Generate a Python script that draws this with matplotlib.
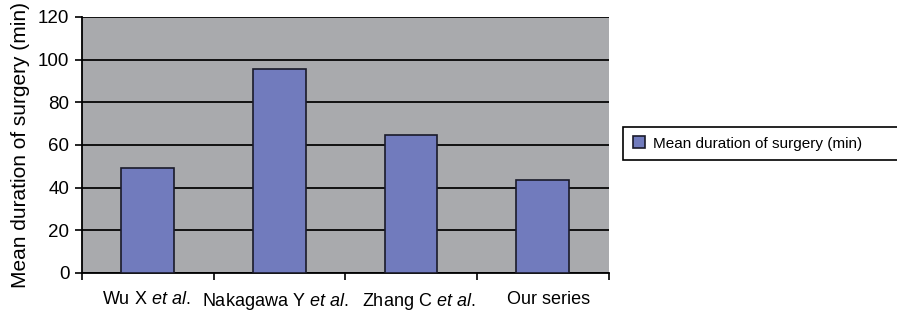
import numpy as np
import matplotlib
matplotlib.use("Agg")
import matplotlib.pyplot as plt
import matplotlib.transforms as mtransforms
from matplotlib.patches import Rectangle

plt.rcParams['font.family'] = ['Liberation Sans', 'DejaVu Sans']
plt.rcParams['mathtext.fontset'] = 'custom'
plt.rcParams['mathtext.rm'] = 'Liberation Sans'
plt.rcParams['mathtext.it'] = 'Liberation Sans:italic'

# data
studies = ["Wu X $\\it{et\\ al.}$", "Nakagawa Y $\\it{et\\ al.}$",
           "Zhang C $\\it{et\\ al.}$", "Our series"]
durations = [49, 95.5, 64.5, 43.5]
series_name = "Mean duration of surgery (min)"

fig = plt.figure(figsize=(8.97, 3.13), dpi=100)
ax = fig.add_axes([0.0914, 0.128, 0.587, 0.818])
ax.set_facecolor('#A9AAAD')

x = np.arange(len(studies))
ax.bar(x, durations, width=0.4, color='#717BBD', edgecolor='#1a1a2a',
       linewidth=1.2, zorder=3, label=series_name)

ax.set_ylim(0, 120)
ax.set_xlim(-0.5, len(studies) - 0.5)
ax.set_yticks(range(0, 121, 20))
ax.yaxis.grid(True, color='#111111', linewidth=1.4, zorder=0)
ax.set_axisbelow(True)

# category labels centred, ticks at boundaries
ax.set_xticks(x)
ax.set_xticklabels(studies, fontsize=13)
ax.tick_params(axis='x', length=0, pad=13)
ax.set_xticks(np.arange(-0.5, len(studies)), minor=True)
ax.tick_params(axis='x', which='minor', length=5, width=1.2, direction='out')
ax.tick_params(axis='y', labelsize=13.5, length=5, width=1.2, pad=4)

# nudge labels apart a little, as in the source
shifts = [-1.5, -4.5, 8, 6]
for lab, dx in zip(ax.get_xticklabels(), shifts):
    lab.set_transform(lab.get_transform() +
                      mtransforms.ScaledTranslation(dx / 100, 0, fig.dpi_scale_trans))

for side in ['top', 'right']:
    ax.spines[side].set_visible(False)
ax.spines['left'].set_linewidth(1.3)
ax.spines['bottom'].set_linewidth(1.3)

ax.set_ylabel(series_name, fontsize=15, labelpad=6)

# legend: frame runs off the right edge like the source
fig.patches.append(Rectangle((623 / 897, 1 - 160 / 313), 0.35, 33 / 313,
                             transform=fig.transFigure, facecolor='white',
                             edgecolor='black', linewidth=1.2))
leg = fig.legend(loc='center left', bbox_to_anchor=(0.692, 1 - 143.5 / 313),
                 fontsize=11, frameon=False,
                 handlelength=0.8, handleheight=0.8, borderpad=0.3,
                 handletextpad=0.5)

fig.savefig("out.png", dpi=100)
